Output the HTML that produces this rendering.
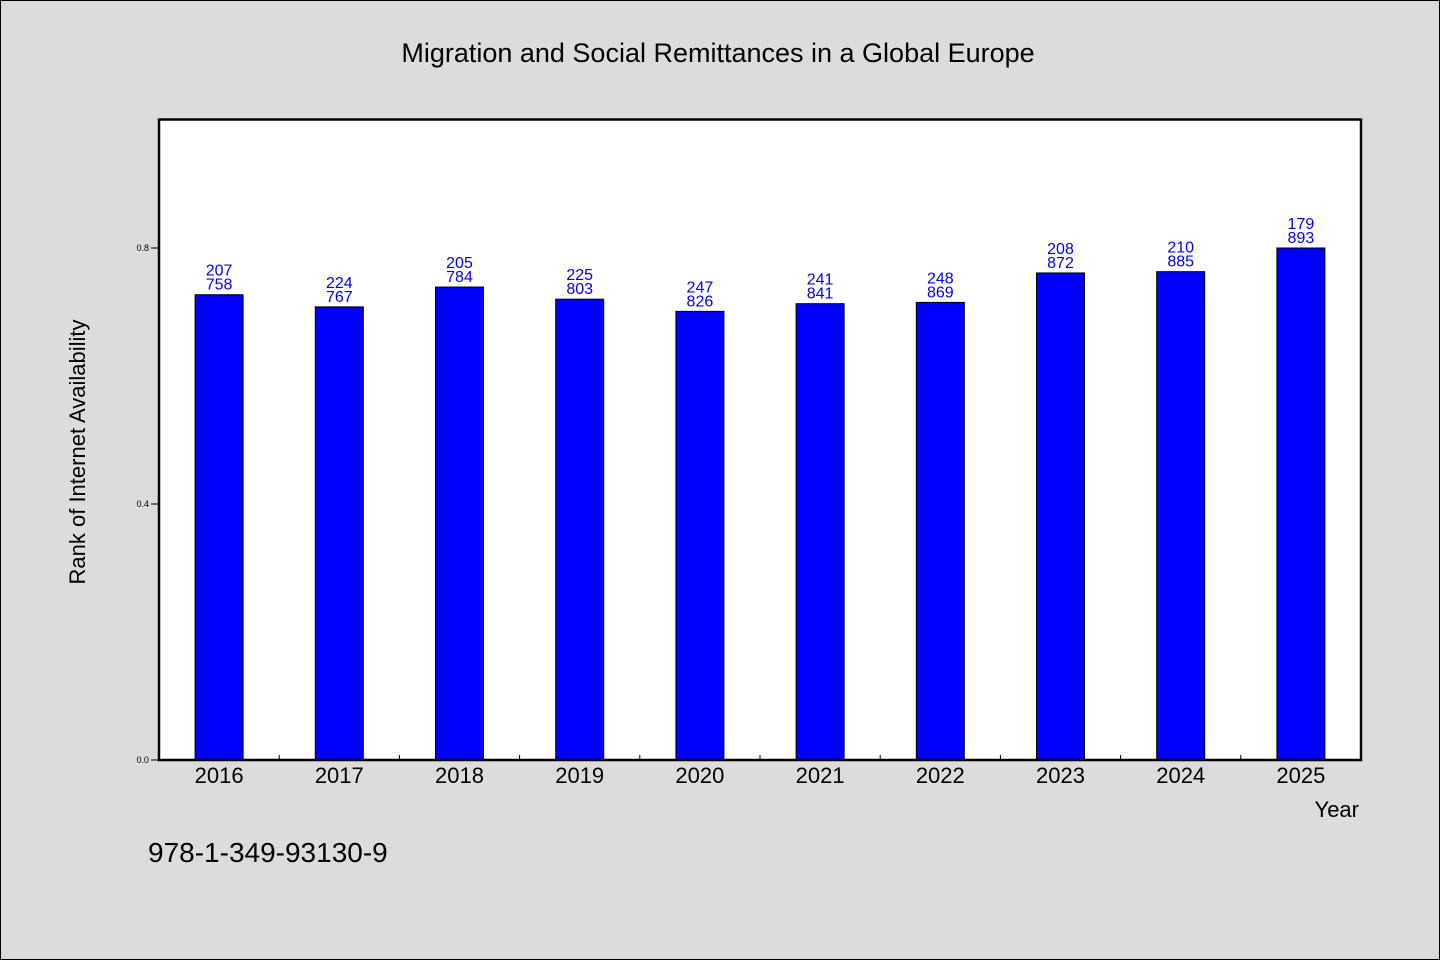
<!DOCTYPE html>
<html><head><meta charset="utf-8"><style>
html,body{margin:0;padding:0;background:#dcdcdc;}
svg{display:block;font-family:"WenQuanYi Zen Hei","Liberation Sans",sans-serif;}
</style></head><body>
<svg id="chart" width="1440" height="960">
<rect x="0.5" y="0.5" width="1439" height="959" fill="#dcdcdc" stroke="#000"/>
<text x="718" y="62" font-size="27" text-anchor="middle">Migration and Social Remittances in a Global Europe</text>
<rect x="159" y="119.5" width="1202" height="640.5" fill="#fff"/>
<g id="bars"></g>
<rect x="159" y="119.5" width="1202" height="640.5" fill="none" stroke="#000" stroke-width="2.5"/>
<text transform="translate(85,452) rotate(-90)" font-size="22" text-anchor="middle">Rank of Internet Availability</text>
<text x="1359" y="817" font-size="22" text-anchor="end">Year</text>
<text x="148" y="862" font-size="28">978-1-349-93130-9</text>
</svg>
<script>
const categories=["2016","2017","2018","2019","2020","2021","2022","2023","2024","2025"];
const topLabels=[207,224,205,225,247,241,248,208,210,179];
const bottomLabels=[758,767,784,803,826,841,869,872,885,893];
const values=[0.727,0.708,0.739,0.720,0.701,0.713,0.715,0.761,0.763,0.800];
const yTicks=[0.0,0.4,0.8];
const x0=159,x1=1361,y0=760,yTop=120;
const band=(x1-x0)/categories.length;
function xs(i){return x0+band*(i+0.5);}
function ys(v){return y0-(y0-yTop)*v/1.0;}
const ns="http://www.w3.org/2000/svg";
const g=document.getElementById('bars');
function mk(t,a){const e=document.createElementNS(ns,t);for(const k in a)e.setAttribute(k,a[k]);g.appendChild(e);return e;}
categories.forEach((c,i)=>{
 const cx=xs(i),y=ys(values[i]);
 const r=mk('rect',{x:cx-24,y:y,width:48,height:y0-y,fill:'#0000ff',stroke:'#000','stroke-width':1});
 
 
 const t1=mk('text',{x:cx,y:y-19,'font-size':16,fill:'#0000ff','text-anchor':'middle'});t1.textContent=topLabels[i];
 
 
 const t2=mk('text',{x:cx,y:y-5,'font-size':16,fill:'#0000ff','text-anchor':'middle'});t2.textContent=bottomLabels[i];
 
 
 const xl=mk('text',{x:cx,y:783,'font-size':22,'text-anchor':'middle'});xl.textContent=c;
 
 
 if(i>0){const tk=mk('line',{x1:x0+band*i,x2:x0+band*i,y1:y0,y2:y0-5,stroke:'#000'});
 
 }
});
yTicks.forEach(v=>{
 const y=ys(v);
 const l=mk('line',{x1:151,x2:159,y1:y,y2:y,stroke:'#000'});
 
 
 const t=mk('text',{x:149,y:y+3,'font-size':9,'text-anchor':'end'});t.textContent=v.toFixed(1);
 
 
});
</script>
</body></html>
